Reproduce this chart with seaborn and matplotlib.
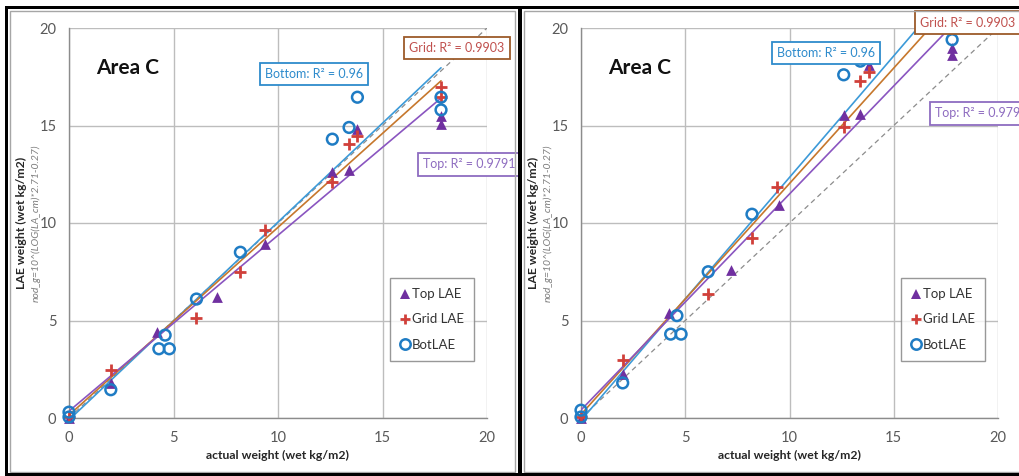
import numpy as np
import pandas as pd
import matplotlib
matplotlib.use("Agg")
import matplotlib.pyplot as plt
import seaborn as sns
from matplotlib.lines import Line2D
from matplotlib.patches import Rectangle

# ---------------- data ----------------
ticks = [0, 5, 10, 15, 20]

# left panel
top_x_L = [0, 2.0, 4.2, 7.1, 9.4, 12.6, 13.4, 13.8, 17.8, 17.8]
top_y_L = [0, 1.8, 4.4, 6.2, 8.9, 12.6, 12.7, 14.8, 15.5, 15.1]
grid_x_L = [0, 2.0, 6.1, 8.2, 9.4, 12.6, 13.4, 13.8, 17.8, 17.8]
grid_y_L = [0.05, 2.45, 5.15, 7.5, 9.65, 12.1, 14.05, 14.45, 17.0, 16.45]
bot_x_L = [0, 0, 2.0, 4.3, 4.8, 4.6, 6.1, 8.2, 12.6, 13.4, 13.8, 17.8, 17.8]
bot_y_L = [0.3, 0.05, 1.45, 3.55, 3.55, 4.25, 6.1, 8.5, 14.3, 14.9, 16.45, 16.45, 15.8]

# right panel (values above 20 are off the chart, estimated)
top_x_R = [0, 2.0, 4.2, 7.2, 9.5, 12.6, 13.4, 13.8, 17.8, 17.8]
top_y_R = [0, 2.25, 5.4, 7.6, 10.9, 15.55, 15.6, 18.1, 19.0, 18.6]
grid_x_R = [0, 2.0, 6.1, 8.2, 9.4, 12.6, 13.4, 13.8, 17.8, 17.8]
grid_y_R = [0.05, 3.0, 6.35, 9.25, 11.85, 14.9, 17.3, 17.75, 20.9, 20.2]
bot_x_R = [0, 0, 2.0, 4.3, 4.8, 4.6, 6.1, 8.2, 12.6, 13.4, 13.8, 17.8, 17.8]
bot_y_R = [0.4, 0.05, 1.8, 4.3, 4.3, 5.25, 7.5, 10.45, 17.6, 18.3, 20.2, 20.2, 19.4]

series_labels = ["Top LAE", "Grid LAE", "BotLAE"]
r2_labels = ["Top: R\u00b2 = 0.9791", "Grid: R\u00b2 = 0.9903", "Bottom: R\u00b2 = 0.96"]
title = "Area C"
xlabel = "actual weight (wet kg/m2)"
ylabel = "LAE weight (wet kg/m2)"
ysub = "nod_g=10^(LOG(LA_cm)*2.71-0.27)"

# ---------------- style ----------------
sns.set_style("white")
plt.rcParams['font.family'] = ['Lato', 'DejaVu Sans']

C_TOP_M = "#7030a0"
C_GRID_M = "#d0403a"
C_BOT_M = "#1f7cc4"
C_TOP_L = "#8a55c0"
C_GRID_L = "#c6772c"
C_BOT_L = "#3c9ad8"
C_TOP_T = "#8e6cc0"
C_GRID_T = "#c0504d"
C_GRID_E = "#9c5a2a"
C_BOT_T = "#2e8bcc"
GRIDC = "#bdbdbd"
TXT = "#595959"

W, H = 1019, 476
fig = plt.figure(figsize=(W / 100, H / 100), dpi=100)


def rect(x0, x1, y0, y1):
    return [x0 / W, 1 - y1 / H, (x1 - x0) / W, (y1 - y0) / H]


def panel(ax, tx, ty, gx, gy, bx, by, txtpos):
    # trend lines
    for x, y, c in [(bx, by, C_BOT_L), (gx, gy, C_GRID_L), (tx, ty, C_TOP_L)]:
        sns.regplot(x=np.array(x), y=np.array(y), ax=ax, scatter=False, ci=None,
                    truncate=True, color=c, line_kws=dict(lw=1.2, zorder=3))
    ax.axline((0, 0), slope=1, color="#8c8c8c", lw=0.9, ls=(0, (4, 3)), zorder=2)

    def vis(x, y):
        x = np.array(x); y = np.array(y)
        m = y <= 20
        return x[m], y[m]

    x, y = vis(tx, ty)
    sns.scatterplot(x=x, y=y, ax=ax, marker="^", s=60, color=C_TOP_M,
                    linewidth=0, clip_on=False, zorder=5)
    x, y = vis(gx, gy)
    sns.scatterplot(x=x, y=y, ax=ax, marker="+", s=70, color=C_GRID_M,
                    linewidth=2, clip_on=False, zorder=6)
    x, y = vis(bx, by)
    sns.scatterplot(x=x, y=y, ax=ax, marker="o", s=60, color="none",
                    edgecolor=C_BOT_M, linewidth=1.8, clip_on=False, zorder=7)

    ax.set_xlim(0, 20)
    ax.set_ylim(0, 20)
    ax.set_xticks(ticks)
    ax.set_yticks(ticks)
    ax.set_xticklabels([str(t) for t in ticks])
    ax.set_yticklabels([str(t) for t in ticks])
    ax.grid(True, color=GRIDC, lw=1.0)
    ax.set_axisbelow(True)
    for s in ["top", "right"]:
        ax.spines[s].set_visible(False)
    for s in ["left", "bottom"]:
        ax.spines[s].set_color("#8c8c8c")
        ax.spines[s].set_linewidth(1.0)
    ax.tick_params(axis="both", length=4, width=1, color="#8c8c8c",
                   labelsize=10.5, labelcolor=TXT, pad=5, direction="out")
    ax.set_xlabel("")
    ax.set_ylabel("")

    ax.text(1.3, 17.95, title, fontsize=15, fontweight="bold", color="#111111",
            va="center", ha="left")

    (gpos, bpos, tpos) = txtpos
    bb = "square,pad=0.42"
    ax.text(gpos[0], gpos[1], r2_labels[1], fontsize=9, color=C_GRID_T, ha="center",
            va="center", clip_on=False, zorder=10,
            bbox=dict(boxstyle=bb, fc="white", ec=C_GRID_E, lw=1.3))
    ax.text(bpos[0], bpos[1], r2_labels[2], fontsize=9, color=C_BOT_T, ha="center",
            va="center", clip_on=False, zorder=10,
            bbox=dict(boxstyle=bb, fc="white", ec=C_BOT_T, lw=1.3))
    ax.text(tpos[0], tpos[1], r2_labels[0], fontsize=9, color=C_TOP_T, ha="left",
            va="center", clip_on=False, zorder=10,
            bbox=dict(boxstyle=bb, fc="white", ec=C_TOP_T, lw=1.3))

    handles = [
        Line2D([], [], ls="none", marker="^", ms=7.5, color=C_TOP_M, mew=0),
        Line2D([], [], ls="none", marker="+", ms=7.5, color=C_GRID_M, mew=2),
        Line2D([], [], ls="none", marker="o", ms=7.5, mfc="none", mec=C_BOT_M, mew=1.8),
    ]
    leg = ax.legend(handles, series_labels, loc="upper left",
                    bbox_to_anchor=(0.768, 0.358), frameon=True, fancybox=False,
                    fontsize=9.5, handlelength=0.7, handletextpad=0.2,
                    labelspacing=1.0, borderpad=0.75, borderaxespad=0)
    leg.get_frame().set_edgecolor("#7f7f7f")
    leg.get_frame().set_linewidth(1.0)
    for t in leg.get_texts():
        t.set_color("#333333")


axL = fig.add_axes(rect(69, 487, 28, 418))
axR = fig.add_axes(rect(581, 998, 28, 418))

panel(axL, top_x_L, top_y_L, grid_x_L, grid_y_L, bot_x_L, bot_y_L,
      ((18.56, 18.97), (11.72, 17.64), (16.95, 13.0)))
panel(axR, top_x_R, top_y_R, grid_x_R, grid_y_R, bot_x_R, bot_y_R,
      ((18.54, 20.28), (11.75, 18.72), (17.0, 15.62)))

# axis labels in figure pixel positions
for off in (0, 512):
    fig.text((278 + off) / W, 1 - 455 / H, xlabel, fontsize=8.8, fontweight="bold",
             color="#262626", ha="center", va="center")
    fig.text((21 + off) / W, 1 - 223 / H, ylabel, fontsize=8.8, fontweight="bold",
             color="#262626", ha="center", va="center", rotation=90)
    fig.text((36 + off) / W, 1 - 223 / H, ysub, fontsize=7.5, style="italic",
             color="#7f7f7f", ha="center", va="center", rotation=90)

# frames (black outer lines, grey chart-area borders)
for (x0, y0, x1, y1) in [(10, 11, 515, 472), (524, 11, 1030, 472)]:
    fig.add_artist(Rectangle((x0 / W, 1 - y1 / H), (x1 - x0) / W, (y1 - y0) / H,
                             transform=fig.transFigure, fill=False, ec="#a6a6a6", lw=1.0))
for (x0, y0, x1, y1) in [(5, 6, 1019, 9), (5, 6, 8, 476), (518, 6, 522, 476), (5, 473, 1019, 476)]:
    fig.add_artist(Rectangle((x0 / W, 1 - y1 / H), (x1 - x0) / W, (y1 - y0) / H,
                             transform=fig.transFigure, fill=True, fc="black", ec="none"))

fig.savefig("out.png", dpi=100)
